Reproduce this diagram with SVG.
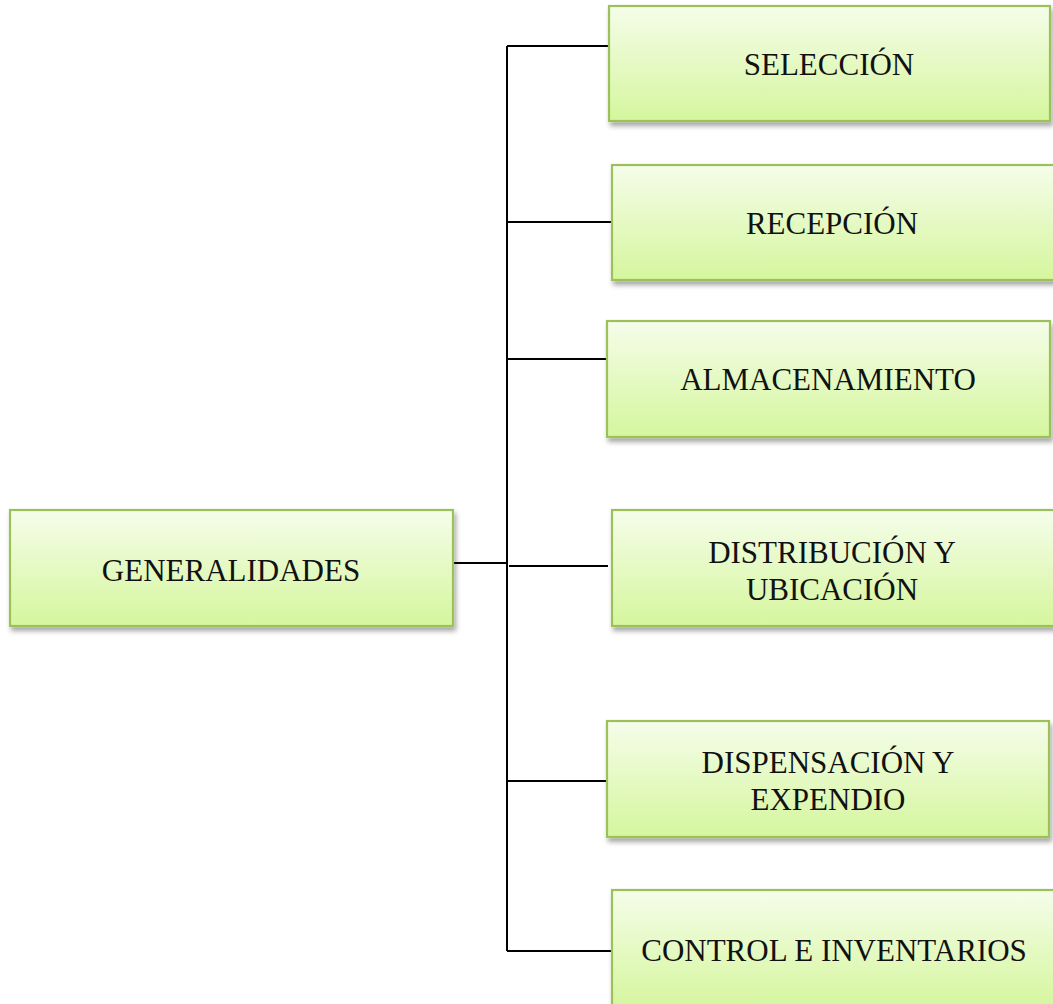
<svg xmlns="http://www.w3.org/2000/svg" width="1053" height="1004" viewBox="0 0 1053 1004">
<style>
.box{fill:url(#g);stroke:#9cc05a;stroke-width:2.2;filter:url(#sh)}
.t{font-family:"Liberation Serif","Times New Roman",serif;font-size:31px;fill:#111;text-anchor:middle}
.c{stroke:#000;stroke-width:2;fill:none}
</style>
<defs>
<linearGradient id="g" x1="0" y1="0" x2="0" y2="1">
<stop offset="0" stop-color="#f5fdea"/>
<stop offset="1" stop-color="#d5f69d"/>
</linearGradient>
<filter id="sh" x="-10%" y="-10%" width="120%" height="130%">
<feDropShadow dx="2" dy="4" stdDeviation="2.5" flood-color="#000" flood-opacity="0.35"/>
</filter>
</defs>
<g id="connectors">
<path class="c" d="M507 46V951"/>
<path class="c" d="M507 46H609"/>
<path class="c" d="M507 222H612"/>
<path class="c" d="M508 359H607"/>
<path class="c" d="M453 563H507"/>
<path class="c" d="M509 566H608"/>
<path class="c" d="M507 781H607"/>
<path class="c" d="M507 951H612"/>
</g>
<g id="generalidades">
<rect class="box" x="10" y="510" width="443" height="116"/>
<text class="t" x="231" y="581">GENERALIDADES</text>
</g>
<g id="seleccion">
<rect class="box" x="609" y="6" width="441" height="115"/>
<text class="t" x="829" y="75">SELECCIÓN</text>
</g>
<g id="recepcion">
<rect class="box" x="612" y="165" width="445" height="115"/>
<text class="t" x="832" y="234">RECEPCIÓN</text>
</g>
<g id="almacenamiento">
<rect class="box" x="607" y="321" width="443" height="116"/>
<text class="t" x="828" y="390">ALMACENAMIENTO</text>
</g>
<g id="distribucion">
<rect class="box" x="612" y="510" width="445" height="116"/>
<text class="t" x="832" y="563">DISTRIBUCIÓN Y</text>
<text class="t" x="832" y="600">UBICACIÓN</text>
</g>
<g id="dispensacion">
<rect class="box" x="607" y="721" width="442" height="116"/>
<text class="t" x="828" y="773">DISPENSACIÓN Y</text>
<text class="t" x="828" y="810">EXPENDIO</text>
</g>
<g id="control">
<rect class="box" x="612" y="890" width="445" height="118"/>
<text class="t" x="834" y="961">CONTROL E INVENTARIOS</text>
</g>
</svg>
